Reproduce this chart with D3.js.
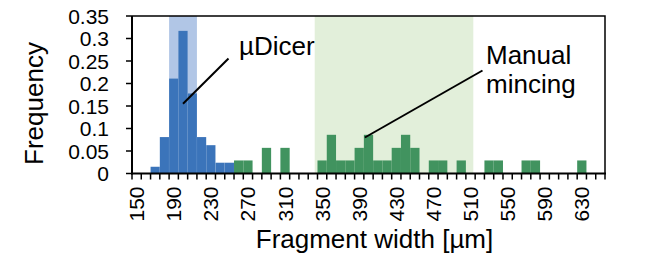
<!DOCTYPE html>
<html>
<head>
<meta charset="utf-8">
<script src="https://cdn.jsdelivr.net/npm/d3@7"></script>
<style>
  body { margin: 0; background: #fff; }
  text { font-family: "Liberation Sans", Arial, sans-serif; fill: #000; }
</style>
</head>
<body>
<script>
// bins of fragment width (um), one category every 10 um
var categories = d3.range(150, 651, 10);
var tickLabels = [150, 190, 230, 270, 310, 350, 390, 430, 470, 510, 550, 590, 630];

// frequency per bin (only non-zero bins listed)
var dicerBins = [170, 180, 190, 200, 210, 220, 230, 240, 250];
var dicerFreq = [0.015, 0.081, 0.211, 0.317, 0.178, 0.081, 0.063, 0.024, 0.024];

var mincingBins = [260, 270, 290, 310, 350, 360, 370, 380, 390, 400, 410, 420, 430, 440, 450, 470, 480, 500, 530, 540, 570, 580, 630];
var mincingFreq = [0.029, 0.029, 0.057, 0.057, 0.029, 0.086, 0.029, 0.029, 0.057, 0.086, 0.029, 0.029, 0.057, 0.086, 0.057, 0.029, 0.029, 0.029, 0.029, 0.029, 0.029, 0.029, 0.029];

// shaded ranges (um)
var dicerRange = [185, 215];
var mincingRange = [342, 513];

var yTicks = [0, 0.05, 0.1, 0.15, 0.2, 0.25, 0.3, 0.35];

var W = 672, H = 262;
var mLeft = 132, mRight = 605, mTop = 16, mBottom = 173.5;

var svg = d3.select("body").append("svg")
  .attr("width", W)
  .attr("height", H);

var x = d3.scaleBand()
  .domain(categories)
  .range([mLeft, mRight])
  .padding(0);

// linear version of the same axis for the shaded ranges
var xl = d3.scaleLinear()
  .domain([categories[0] - 5, categories[categories.length - 1] + 5])
  .range([mLeft, mRight]);

var y = d3.scaleLinear()
  .domain([0, 0.35])
  .range([mBottom, mTop]);

// shaded regions
svg.append("rect")
  .attr("x", xl(dicerRange[0]))
  .attr("y", mTop)
  .attr("width", xl(dicerRange[1]) - xl(dicerRange[0]))
  .attr("height", mBottom - mTop)
  .attr("fill", "#b1c6e6");

svg.append("rect")
  .attr("x", xl(mincingRange[0]))
  .attr("y", mTop)
  .attr("width", xl(mincingRange[1]) - xl(mincingRange[0]))
  .attr("height", mBottom - mTop)
  .attr("fill", "#e2efda");

function drawBars(bins, freq, color, edge) {
  svg.append("g").selectAll("rect")
    .data(bins)
    .enter()
    .append("rect")
    .attr("x", function(d) { return x(d); })
    .attr("y", function(d, i) { return y(freq[i]); })
    .attr("width", x.bandwidth())
    .attr("height", function(d, i) { return y(0) - y(freq[i]); })
    .attr("fill", color)
    .attr("stroke", edge)
    .attr("stroke-width", 0.5);
}
drawBars(dicerBins, dicerFreq, "#3b74ba", "rgba(255,255,255,0.1)");
drawBars(mincingBins, mincingFreq, "#41935f", "none");

// frame (top and right)
svg.append("path")
  .attr("d", "M" + mLeft + "," + mTop + "H" + mRight + "V" + mBottom)
  .attr("fill", "none")
  .attr("stroke", "#000")
  .attr("stroke-width", 1.5);

// x axis: ticks at every bin boundary
var xAxis = svg.append("g");
xAxis.append("line")
  .attr("x1", mLeft - 1).attr("x2", mRight + 1)
  .attr("y1", mBottom).attr("y2", mBottom)
  .attr("stroke", "#000").attr("stroke-width", 2);

var edges = categories.map(function(c) { return x(c); }).concat([mRight]);
xAxis.selectAll("line.tk")
  .data(edges)
  .enter()
  .append("line")
  .attr("class", "tk")
  .attr("x1", function(d) { return d; })
  .attr("x2", function(d) { return d; })
  .attr("y1", mBottom)
  .attr("y2", mBottom + 6)
  .attr("stroke", "#000")
  .attr("stroke-width", 1.5);

xAxis.selectAll("text")
  .data(tickLabels)
  .enter()
  .append("text")
  .attr("transform", function(d) {
    return "translate(" + (x(d) + x.bandwidth() / 2) + "," + (mBottom + 13) + ") rotate(-90)";
  })
  .attr("text-anchor", "end")
  .attr("dy", "0.36em")
  .attr("font-size", "21px")
  .text(function(d) { return d; });

// y axis
var yAxis = svg.append("g");
yAxis.append("line")
  .attr("x1", mLeft).attr("x2", mLeft)
  .attr("y1", mTop).attr("y2", mBottom + 1)
  .attr("stroke", "#000").attr("stroke-width", 2);

yAxis.selectAll("line.tk")
  .data(yTicks)
  .enter()
  .append("line")
  .attr("class", "tk")
  .attr("x1", mLeft - 6)
  .attr("x2", mLeft)
  .attr("y1", function(d) { return y(d); })
  .attr("y2", function(d) { return y(d); })
  .attr("stroke", "#000")
  .attr("stroke-width", 1.5);

yAxis.selectAll("text")
  .data(yTicks)
  .enter()
  .append("text")
  .attr("x", 109)
  .attr("y", function(d) { return y(d); })
  .attr("dy", "0.36em")
  .attr("text-anchor", "end")
  .attr("font-size", "21px")
  .text(function(d) { return d; });

// axis titles
svg.append("text")
  .attr("x", (mLeft + mRight) / 2 + 6)
  .attr("y", 248)
  .attr("text-anchor", "middle")
  .attr("font-size", "26px")
  .text("Fragment width [µm]");

svg.append("text")
  .attr("transform", "translate(43," + 103.5 + ") rotate(-90)")
  .attr("text-anchor", "middle")
  .attr("font-size", "26px")
  .text("Frequency");

// annotations
svg.append("line")
  .attr("x1", 228.5).attr("y1", 58.5)
  .attr("x2", x(200) + x.bandwidth() / 2).attr("y2", y(0.155))
  .attr("stroke", "#000").attr("stroke-width", 2);
svg.append("text")
  .attr("x", 239).attr("y", 55)
  .attr("font-size", "26px")
  .text("µDicer");

svg.append("line")
  .attr("x1", 482.5).attr("y1", 70.5)
  .attr("x2", x(400) + 1).attr("y2", y(0.08))
  .attr("stroke", "#000").attr("stroke-width", 2);
svg.append("text")
  .attr("x", 486).attr("y", 64)
  .attr("font-size", "26px")
  .text("Manual");
svg.append("text")
  .attr("x", 486).attr("y", 93)
  .attr("font-size", "26px")
  .text("mincing");
</script>
</body>
</html>
